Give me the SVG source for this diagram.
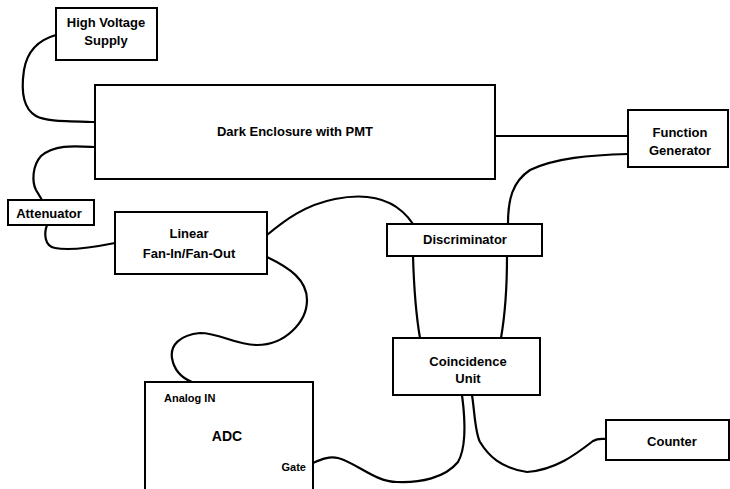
<svg xmlns="http://www.w3.org/2000/svg" width="730" height="489" viewBox="0 0 730 489">
<style>
.box{fill:#fff;stroke:#000;stroke-width:2}
.t{font-family:"Liberation Sans",Arial,sans-serif;font-weight:bold;font-size:13px;fill:#000;text-anchor:middle}
.s{font-family:"Liberation Sans",Arial,sans-serif;font-weight:bold;font-size:11px;fill:#000}
.c{fill:none;stroke:#000;stroke-width:2.2;stroke-linecap:round}
</style>
<rect width="730" height="489" fill="#fff"/>
<g id="connectors">
<path class="c" d="M56,35 C38,40 27,52 24,70 C21,90 22,108 36,116 C45,121 60,121 95,122"/>
<path class="c" d="M95,147 C75,146 55,144 41,156 C32,166 32,182 36,190 L42,200"/>
<path class="c" d="M495,136 L628,136"/>
<path class="c" d="M628,154 C590,155 555,158 530,170 C512,182 508,200 508,224"/>
<path class="c" d="M47,225 C44,233 44,246 55,248 C70,251 90,248 115,243"/>
<path class="c" d="M267,235 C285,220 305,205 335,199 C365,193 395,197 413,224"/>
<path class="c" d="M267,257 C290,268 307,280 307,300 C307,322 285,345 257,345 C235,345 220,333 200,333 C180,335 170,345 172,358 C174,370 182,378 192,382"/>
<path class="c" d="M413,256 C414,290 416,315 420,338"/>
<path class="c" d="M507,256 C507,290 505,315 501,338"/>
<path class="c" d="M313,463 C320,460 328,456 338,458 C355,462 375,482 397,482 C420,483 445,478 458,462 C466,448 466,425 462,395"/>
<path class="c" d="M472,395 C475,415 475,432 480,442 C488,455 500,468 527,472 C555,470 575,455 593,441 C598,438 602,439 606,439"/>
</g>
<g id="hv"><rect class="box" x="56" y="8" width="101" height="52"/><text class="t" x="106" y="27">High Voltage</text><text class="t" x="106" y="45">Supply</text></g>
<g id="enclosure"><rect class="box" x="95" y="85" width="400" height="94"/><text class="t" x="295" y="136">Dark Enclosure with PMT</text></g>
<g id="fg"><rect class="box" x="628" y="110" width="100" height="57"/><text class="t" x="680" y="137">Function</text><text class="t" x="680" y="155">Generator</text></g>
<g id="attenuator"><rect class="box" x="8" y="200" width="86" height="25"/><text class="t" x="49" y="218">Attenuator</text></g>
<g id="linear"><rect class="box" x="115" y="212" width="152" height="62"/><text class="t" x="189" y="238">Linear</text><text class="t" x="189" y="258">Fan-In/Fan-Out</text></g>
<g id="discriminator"><rect class="box" x="387" y="224" width="155" height="32"/><text class="t" x="465" y="244">Discriminator</text></g>
<g id="coincidence"><rect class="box" x="393" y="338" width="147" height="57"/><text class="t" x="468" y="366">Coincidence</text><text class="t" x="468" y="383">Unit</text></g>
<g id="counter"><rect class="box" x="606" y="420" width="123" height="40"/><text class="t" x="672" y="446">Counter</text></g>
<g id="adc"><path class="box" d="M145,489 L145,382 L313,382 L313,489"/><text class="s" x="164" y="402">Analog IN</text><text class="t" x="227" y="441" style="font-size:14px">ADC</text><text class="s" x="306" y="471" text-anchor="end">Gate</text></g>
</svg>
